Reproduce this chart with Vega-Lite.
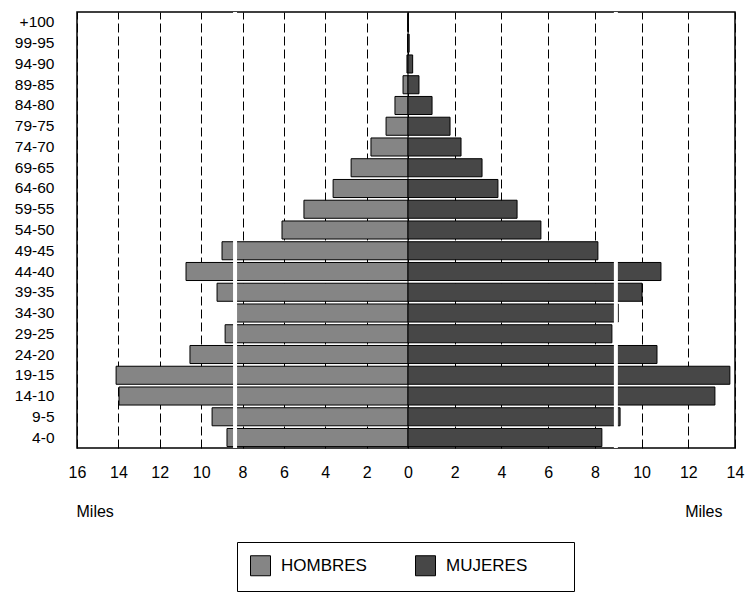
{
  "$schema": "https://vega.github.io/schema/vega-lite/v6.json",
  "autosize": {"type": "none"},
  "padding": {"left": 77, "top": 12, "right": 10, "bottom": 147},
  "width": 658,
  "height": 436,
  "background": "white",
  "config": {
    "font": "Liberation Sans",
    "view": {"stroke": "black", "strokeWidth": 1.5}
  },
  "layer": [
    {
      "data": {"values": [{"x": 0}]},
      "mark": {"type": "rule", "color": "black", "strokeWidth": 1},
      "encoding": {
        "x": {
          "field": "x",
          "type": "quantitative",
          "scale": {"domain": [-16, 0, 14], "range": [0, 331, 658], "nice": false, "zero": false},
          "axis": {
            "orient": "bottom",
            "values": [-16, -14, -12, -10, -8, -6, -4, -2, 0, 2, 4, 6, 8, 10, 12, 14],
            "labelExpr": "'' + abs(datum.value)",
            "grid": true,
            "gridDash": [9, 4],
            "gridColor": "black",
            "gridWidth": 1,
            "gridOpacity": 1,
            "ticks": false,
            "domain": false,
            "labelFontSize": 16,
            "labelColor": "black",
            "labelPadding": 16,
            "labelFlush": false,
            "labelOverlap": false,
            "title": "Miles",
            "titleFontSize": 16,
            "titleFontWeight": "normal",
            "titleColor": "black",
            "titleAnchor": "start",
            "titleAlign": "left",
            "titleBaseline": "top",
            "titleX": -1,
            "titleY": 55
          }
        }
      }
    },
    {
      "data": {
        "values": [
          {"edad": "+100", "sexo": "HOMBRES", "miles": 0},
          {"edad": "+100", "sexo": "MUJERES", "miles": 0},
          {"edad": "99-95", "sexo": "HOMBRES", "miles": -0.02},
          {"edad": "99-95", "sexo": "MUJERES", "miles": 0.05},
          {"edad": "94-90", "sexo": "HOMBRES", "miles": -0.05},
          {"edad": "94-90", "sexo": "MUJERES", "miles": 0.2},
          {"edad": "89-85", "sexo": "HOMBRES", "miles": -0.24},
          {"edad": "89-85", "sexo": "MUJERES", "miles": 0.47},
          {"edad": "84-80", "sexo": "HOMBRES", "miles": -0.63},
          {"edad": "84-80", "sexo": "MUJERES", "miles": 1.03},
          {"edad": "79-75", "sexo": "HOMBRES", "miles": -1.06},
          {"edad": "79-75", "sexo": "MUJERES", "miles": 1.8},
          {"edad": "74-70", "sexo": "HOMBRES", "miles": -1.79},
          {"edad": "74-70", "sexo": "MUJERES", "miles": 2.27},
          {"edad": "69-65", "sexo": "HOMBRES", "miles": -2.75},
          {"edad": "69-65", "sexo": "MUJERES", "miles": 3.17},
          {"edad": "64-60", "sexo": "HOMBRES", "miles": -3.62},
          {"edad": "64-60", "sexo": "MUJERES", "miles": 3.85},
          {"edad": "59-55", "sexo": "HOMBRES", "miles": -5.03},
          {"edad": "59-55", "sexo": "MUJERES", "miles": 4.67},
          {"edad": "54-50", "sexo": "HOMBRES", "miles": -6.09},
          {"edad": "54-50", "sexo": "MUJERES", "miles": 5.69},
          {"edad": "49-45", "sexo": "HOMBRES", "miles": -8.99},
          {"edad": "49-45", "sexo": "MUJERES", "miles": 8.13},
          {"edad": "44-40", "sexo": "HOMBRES", "miles": -10.73},
          {"edad": "44-40", "sexo": "MUJERES", "miles": 10.83},
          {"edad": "39-35", "sexo": "HOMBRES", "miles": -9.23},
          {"edad": "39-35", "sexo": "MUJERES", "miles": 10.02},
          {"edad": "34-30", "sexo": "HOMBRES", "miles": -8.3},
          {"edad": "34-30", "sexo": "MUJERES", "miles": 9.0},
          {"edad": "29-25", "sexo": "HOMBRES", "miles": -8.84},
          {"edad": "29-25", "sexo": "MUJERES", "miles": 8.73},
          {"edad": "24-20", "sexo": "HOMBRES", "miles": -10.54},
          {"edad": "24-20", "sexo": "MUJERES", "miles": 10.66},
          {"edad": "19-15", "sexo": "HOMBRES", "miles": -14.11},
          {"edad": "19-15", "sexo": "MUJERES", "miles": 13.78},
          {"edad": "14-10", "sexo": "HOMBRES", "miles": -13.97},
          {"edad": "14-10", "sexo": "MUJERES", "miles": 13.14},
          {"edad": "9-5", "sexo": "HOMBRES", "miles": -9.47},
          {"edad": "9-5", "sexo": "MUJERES", "miles": 9.08},
          {"edad": "4-0", "sexo": "HOMBRES", "miles": -8.75},
          {"edad": "4-0", "sexo": "MUJERES", "miles": 8.3}
        ]
      },
      "mark": {"type": "bar", "stroke": "black", "strokeWidth": 1},
      "encoding": {
        "y": {
          "field": "edad",
          "type": "nominal",
          "sort": null,
          "scale": {"paddingInner": 0.13, "paddingOuter": 0.07},
          "axis": {
            "title": null,
            "labelFontSize": 15.5,
            "labelPadding": 23,
            "labelColor": "black",
            "ticks": false,
            "domain": false
          }
        },
        "x": {
          "field": "miles",
          "type": "quantitative",
          "scale": {"domain": [-16, 0, 14], "range": [0, 331, 658], "nice": false, "zero": false},
          "axis": null
        },
        "color": {
          "field": "sexo",
          "type": "nominal",
          "scale": {"domain": ["HOMBRES", "MUJERES"], "range": ["#858585", "#474747"]},
          "legend": {
            "orient": "none",
            "legendX": 160,
            "legendY": 530,
            "direction": "horizontal",
            "title": null,
            "strokeColor": "black",
            "fillColor": "white",
            "padding": 13,
            "columnPadding": 46,
            "labelOffset": 10,
            "labelFontSize": 17,
            "labelColor": "black",
            "labelExpr": "datum.label == 'MUJERES' ? datum.label + '\u00a0\u00a0\u00a0\u00a0\u00a0\u00a0\u00a0\u200b' : datum.label",
            "symbolType": "square",
            "symbolSize": 400,
            "symbolStrokeColor": "black",
            "symbolStrokeWidth": 1,
            "symbolOpacity": 1
          }
        }
      }
    },
    {
      "data": {"values": [{"x": -8.36}, {"x": 8.9}]},
      "mark": {"type": "rule", "color": "white", "strokeWidth": 4},
      "encoding": {
        "x": {
          "field": "x",
          "type": "quantitative",
          "scale": {"domain": [-16, 0, 14], "range": [0, 331, 658], "nice": false, "zero": false},
          "axis": {
            "orient": "bottom",
            "labels": false,
            "ticks": false,
            "domain": false,
            "grid": false,
            "title": "Miles",
            "titleFontSize": 16,
            "titleFontWeight": "normal",
            "titleColor": "black",
            "titleAnchor": "end",
            "titleAlign": "right",
            "titleBaseline": "top",
            "titleX": 645,
            "titleY": 55
          }
        }
      }
    }
  ],
  "resolve": {"axis": {"x": "independent"}}
}
